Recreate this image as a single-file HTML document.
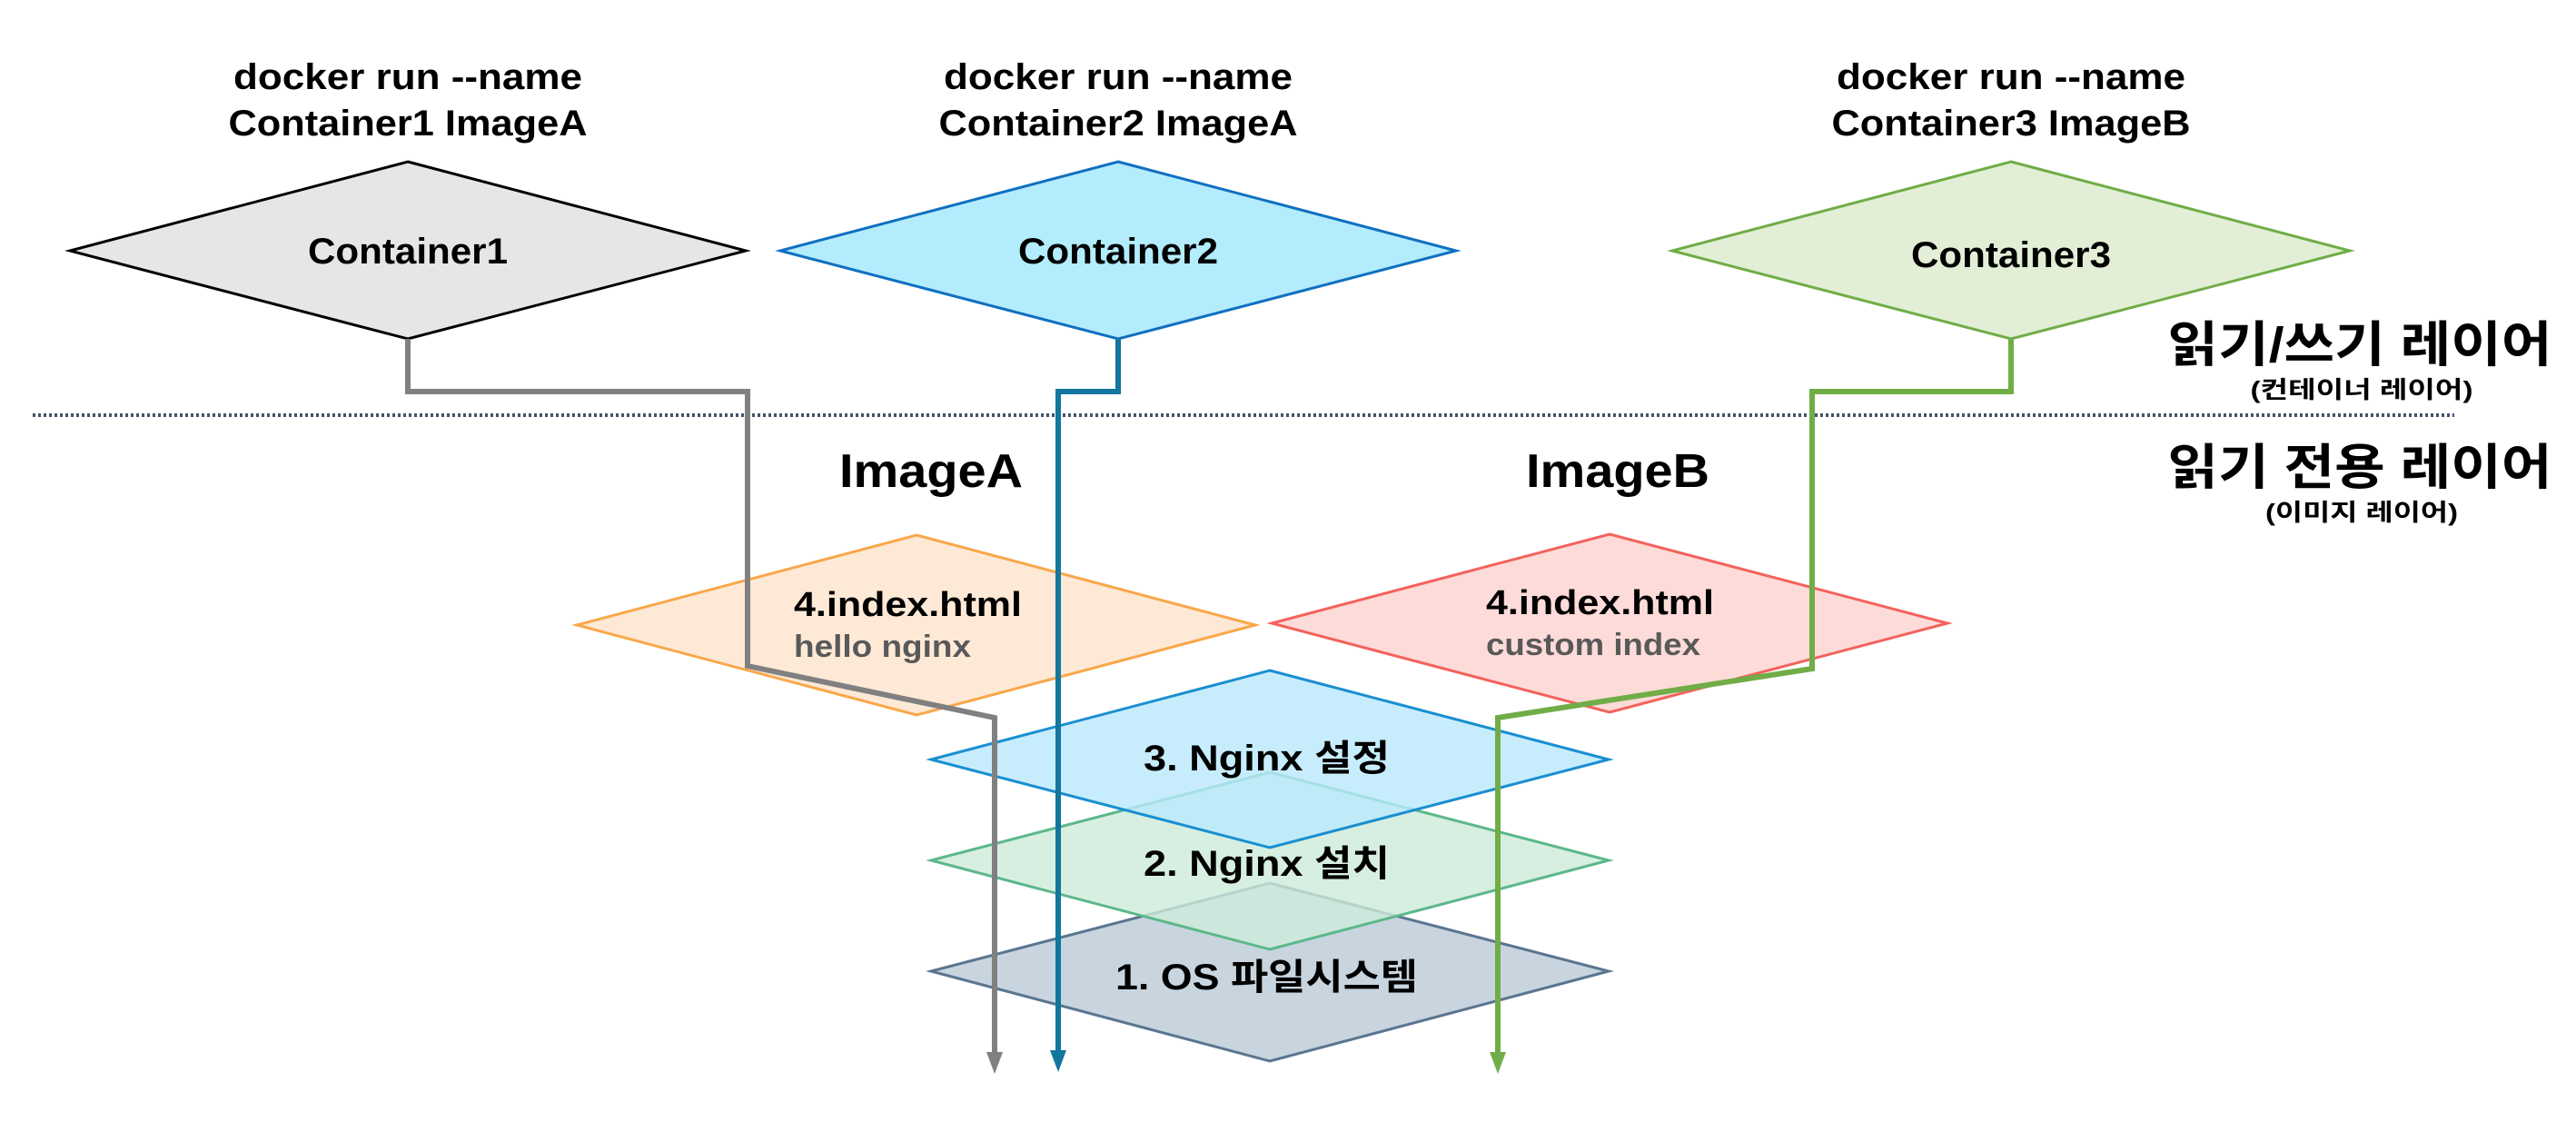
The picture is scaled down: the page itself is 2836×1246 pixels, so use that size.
<!DOCTYPE html>
<html><head><meta charset="utf-8"><style>
html,body{margin:0;padding:0;background:#fff;}
svg{display:block;}
text{font-family:"Liberation Sans","Noto Sans CJK KR",sans-serif;font-weight:bold;}
</style></head><body>
<svg width="2836" height="1246" viewBox="0 0 2836 1246" xmlns="http://www.w3.org/2000/svg">
<g font-size="40" text-anchor="middle" fill="#000">
<text x="449" y="98" textLength="384" lengthAdjust="spacingAndGlyphs">docker run --name</text>
<text x="449" y="149" textLength="395" lengthAdjust="spacingAndGlyphs">Container1 ImageA</text>
<text x="1231" y="98" textLength="384" lengthAdjust="spacingAndGlyphs">docker run --name</text>
<text x="1231" y="149" textLength="395" lengthAdjust="spacingAndGlyphs">Container2 ImageA</text>
<text x="2214" y="98" textLength="384" lengthAdjust="spacingAndGlyphs">docker run --name</text>
<text x="2214" y="149" textLength="395" lengthAdjust="spacingAndGlyphs">Container3 ImageB</text>
</g>
<polygon points="449,178 821,276 449,373 77,276" fill="#e6e6e6" stroke="#000" stroke-width="3"/>
<polygon points="1231,178 1603,276 1231,373 859,276" fill="#b3ecfc" stroke="#1070c0" stroke-width="3"/>
<polygon points="2214,178 2587,276 2214,373 1841,276" fill="#e2efd6" stroke="#70ad47" stroke-width="3"/>
<g font-size="40" text-anchor="middle" fill="#000">
<text x="449" y="290" textLength="220" lengthAdjust="spacingAndGlyphs">Container1</text>
<text x="1231" y="290" textLength="220" lengthAdjust="spacingAndGlyphs">Container2</text>
<text x="2214" y="294" textLength="220" lengthAdjust="spacingAndGlyphs">Container3</text>
</g>
<line x1="36" y1="457" x2="2702" y2="457" stroke="#44546a" stroke-width="4" stroke-dasharray="3,3"/>
<g text-anchor="middle" fill="#000">
<text x="2598" y="398" font-size="54" textLength="423" lengthAdjust="spacingAndGlyphs">읽기/쓰기 레이어</text>
<text x="2600" y="438" font-size="26" textLength="245" lengthAdjust="spacingAndGlyphs">(컨테이너 레이어)</text>
<text x="2598" y="533" font-size="54" textLength="423" lengthAdjust="spacingAndGlyphs">읽기 전용 레이어</text>
<text x="2600" y="573" font-size="26" textLength="212" lengthAdjust="spacingAndGlyphs">(이미지 레이어)</text>
<text x="1025" y="536" font-size="52" textLength="202" lengthAdjust="spacingAndGlyphs">ImageA</text>
<text x="1781" y="536" font-size="52" textLength="202" lengthAdjust="spacingAndGlyphs">ImageB</text>
</g>
<polygon points="1009,589 1382,688 1009,787 635,688" fill="#fde9d6" stroke="#f9a74a" stroke-width="3"/>
<polygon points="1772,588 2144,686 1772,784 1400,686" fill="#fddbd9" stroke="#f4625c" stroke-width="3"/>
<text x="874" y="678" font-size="38" textLength="251" lengthAdjust="spacingAndGlyphs">4.index.html</text>
<text x="874" y="723" font-size="34" fill="#595959" textLength="195" lengthAdjust="spacingAndGlyphs">hello nginx</text>
<text x="1636" y="676" font-size="38" textLength="251" lengthAdjust="spacingAndGlyphs">4.index.html</text>
<text x="1636" y="721" font-size="34" fill="#595959" textLength="236" lengthAdjust="spacingAndGlyphs">custom index</text>
<polygon points="1398,972 1771,1069 1398,1168 1025,1069" fill="#c8d5df" stroke="#5a7590" stroke-width="3"/>
<polygon points="1398,850 1771,947 1398,1045 1025,947" fill="rgba(205,235,218,0.8)" stroke="#5cb88a" stroke-width="3"/>
<polygon points="1398,738 1771,836 1398,933 1025,836" fill="rgba(185,232,252,0.8)" stroke="#1a8fd0" stroke-width="3"/>
<g font-size="40" fill="#000">
<text x="1259" y="848" textLength="271" lengthAdjust="spacingAndGlyphs">3. Nginx 설정</text>
<text x="1259" y="964" textLength="271" lengthAdjust="spacingAndGlyphs">2. Nginx 설치</text>
<text x="1228" y="1089" textLength="333" lengthAdjust="spacingAndGlyphs">1. OS 파일시스템</text>
</g>
<polyline points="449,373 449,431 823,431 823,733 1095,790 1095,1162" fill="none" stroke="#808080" stroke-width="6"/>
<polygon points="1086,1158 1104,1158 1095,1182" fill="#808080"/>
<polyline points="1231,373 1231,431 1165,431 1165,1160" fill="none" stroke="#13769c" stroke-width="6"/>
<polygon points="1156,1156 1174,1156 1165,1180" fill="#13769c"/>
<polyline points="2214,373 2214,431 1995,431 1995,736 1649,790 1649,1162" fill="none" stroke="#70ad47" stroke-width="6"/>
<polygon points="1640,1158 1658,1158 1649,1182" fill="#70ad47"/>
</svg>
</body></html>
